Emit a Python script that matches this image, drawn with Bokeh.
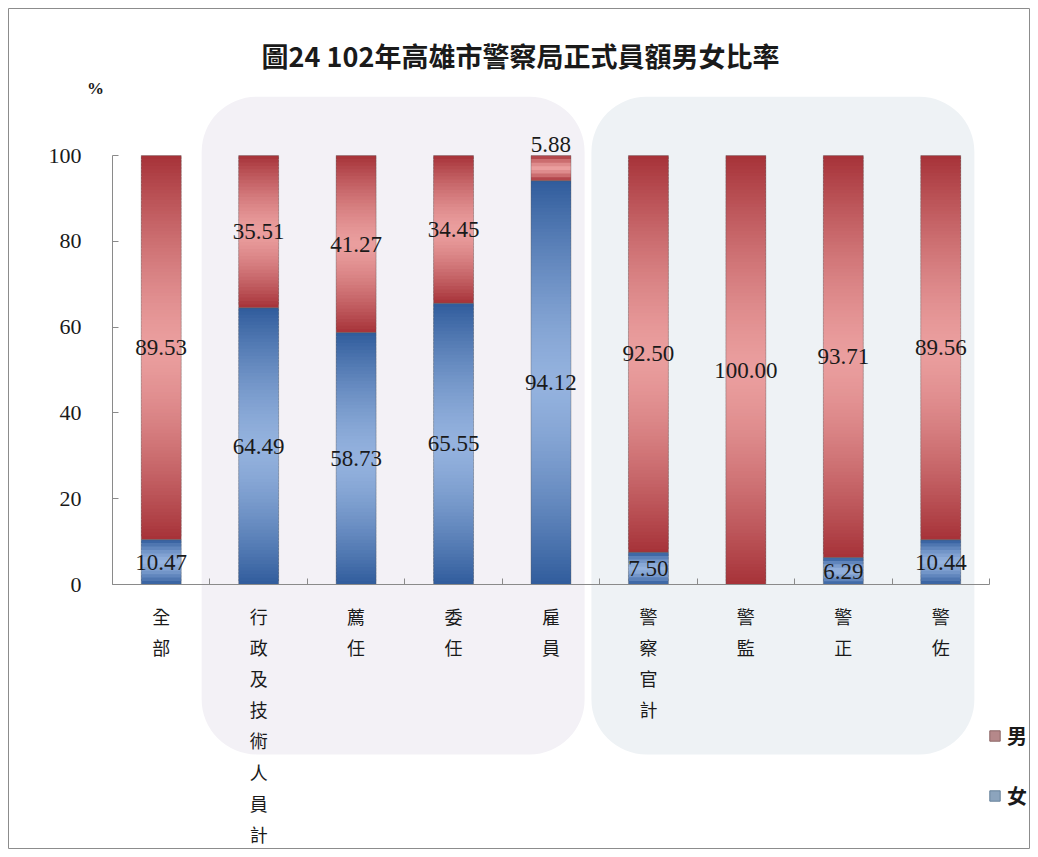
import numpy as np
from bokeh.plotting import figure
from bokeh.models import Range1d, FixedTicker, Legend, LegendItem, ColumnDataSource
from bokeh.core.properties import value
from bokeh.embed import file_html
from bokeh.resources import INLINE

# ---------------- data ----------------
title_text = "圖24 102年高雄市警察局正式員額男女比率"
categories = ["全部", "行政及技術人員計", "薦任", "委任", "雇員",
              "警察官計", "警監", "警正", "警佐"]
female = [10.47, 64.49, 58.73, 65.55, 94.12, 7.50, 0.00, 6.29, 10.44]
male = [89.53, 35.51, 41.27, 34.45, 5.88, 92.50, 100.00, 93.71, 89.56]
y_ticks = [0, 20, 40, 60, 80, 100]
group_admin = ["行政及技術人員計", "薦任", "委任", "雇員"]
group_police = ["警察官計", "警監", "警正", "警佐"]
series_names = ["男", "女"]

# ---------------- style ----------------
CJK = "Noto Sans CJK TC"
SERIF = "Liberation Serif"
RED_DARK, RED_LIGHT = (166, 50, 56), (234, 158, 158)
BLUE_DARK, BLUE_LIGHT = (48, 92, 156), (148, 178, 222)
BAR_W = 0.41

xs = [i + 1 for i in range(len(categories))]

p = figure(width=1030, height=849, output_backend="svg", toolbar_location=None,
           x_range=Range1d(-0.5673, 9.921), y_range=Range1d(-61.77, 134.27),
           min_border_left=8, min_border_top=8, min_border_right=0,
           min_border_bottom=0, title=None)
p.outline_line_color = "#8c8c8c"
p.outline_line_width = 1
p.background_fill_color = "white"
p.border_fill_color = "white"
p.xgrid.visible = False
p.ygrid.visible = False

# background rounded group panels
for grp, col in ((group_admin, "#f3f1f6"), (group_police, "#eef2f5")):
    idx = [categories.index(c) + 1 for c in grp]
    p.quad(left=[min(idx) - 0.585], right=[max(idx) + 0.345],
           top=[113.7], bottom=[-39.6], fill_color=col, line_color=None,
           border_radius=55)

# gradient bars built from overlapping thin slices of each stacked segment
def mix(light, dark, d):
    r, g, b = (int(round(l * (1 - d) + k * d)) for l, k in zip(light, dark))
    return "#%02x%02x%02x" % (r, g, b)

L, R, T, B, C = [], [], [], [], []
for x, f, m in zip(xs, female, male):
    for (b0, b1, light, dark) in ((0.0, f, BLUE_LIGHT, BLUE_DARK),
                                  (f, f + m, RED_LIGHT, RED_DARK)):
        h = b1 - b0
        if h <= 0:
            continue
        n = max(4, int(round(h / 0.8)))
        edges = np.linspace(b0, b1, n + 1)
        step = edges[1] - edges[0]
        for k in range(n):
            t = (k + 0.5) / n
            d = abs(2 * t - 1) ** 1.4
            L.append(x - BAR_W / 2); R.append(x + BAR_W / 2)
            B.append(edges[k]); T.append(min(b1, edges[k + 1] + 0.7 * step))
            C.append(mix(light, dark, d))
p.quad(left="l", right="r", top="t", bottom="b", fill_color="c", line_color=None,
       source=ColumnDataSource(dict(l=L, r=R, t=T, b=B, c=C)))

tops = [f + m for f, m in zip(female, male)]
p.vbar(x=xs, bottom=0, top=female, width=BAR_W, fill_alpha=0,
       line_color="#555555", line_alpha=0.35)
p.vbar(x=xs, bottom=female, top=tops, width=BAR_W, fill_alpha=0,
       line_color="#555555", line_alpha=0.35)

# value labels
lx, ly, lt, lb = [], [], [], []
for x, f, m in zip(xs, female, male):
    if f > 0:
        lx.append(x); ly.append(f / 2); lt.append("%.2f" % f); lb.append("middle")
    if m >= 10:
        lx.append(x); ly.append(f + m / 2); lt.append("%.2f" % m); lb.append("middle")
    elif m > 0:
        lx.append(x); ly.append(f + m + 0.8); lt.append("%.2f" % m); lb.append("bottom")
p.text(x="x", y="y", text="t", text_baseline="b", text_align="center",
       text_font=value(SERIF), text_font_size="23px", text_color="#1a1a1a",
       source=ColumnDataSource(dict(x=lx, y=ly, t=lt, b=lb)))

# title and unit
p.text(x=[4.687], y=[123.3], text=[title_text], text_align="center",
       text_baseline="middle", text_font=value(CJK), text_font_size="27px",
       text_font_style="bold", text_color="#1a1a1a")
p.text(x=[0.326], y=[115.6], text=["%"], text_align="center",
       text_baseline="middle", text_font=value(SERIF), text_font_size="17px",
       text_font_style="bold", text_color="#1a1a1a")

# axes
ya = p.yaxis[0]
ya.ticker = FixedTicker(ticks=y_ticks, minor_ticks=[])
ya.bounds = (0, 100)
ya.fixed_location = 0.5
ya.axis_line_color = "#8a8a8a"
ya.major_tick_line_color = "#8a8a8a"
ya.major_tick_in = 6
ya.major_tick_out = 0
ya.major_label_standoff = 31
ya.major_label_text_font = SERIF
ya.major_label_text_font_size = "22px"
ya.major_label_text_color = "#1a1a1a"

xa = p.xaxis[0]
xa.ticker = FixedTicker(ticks=xs, minor_ticks=[i + 0.5 for i in range(len(categories) + 1)])
xa.bounds = (0.5, len(categories) + 0.5)
xa.fixed_location = 0
xa.axis_line_color = "#8a8a8a"
xa.major_tick_in = 0
xa.major_tick_out = 0
xa.minor_tick_line_color = "#8a8a8a"
xa.minor_tick_in = 6
xa.minor_tick_out = 0
xa.major_label_overrides = {x: "\n".join(c) for x, c in zip(xs, categories)}
xa.major_label_standoff = 18
xa.major_label_text_font = CJK
xa.major_label_text_font_size = "18px"
xa.major_label_text_color = "#1a1a1a"

# legend (dummy renderers positioned outside the visible range)
r_m = p.quad(left=[-50], right=[-49], top=[-500], bottom=[-501],
             fill_color="#b5888a", line_color="#8a6464")
r_f = p.quad(left=[-50], right=[-49], top=[-500], bottom=[-501],
             fill_color="#8ca4bd", line_color="#66809a")
legend = Legend(items=[LegendItem(label=series_names[0], renderers=[r_m]),
                       LegendItem(label=series_names[1], renderers=[r_f])],
                location=(980, 39), orientation="vertical",
                glyph_width=13, glyph_height=13, label_height=20,
                spacing=31, padding=0, margin=0, label_standoff=6,
                label_text_font=CJK, label_text_font_size="20px",
                label_text_font_style="bold", label_text_color="#1a1a1a",
                border_line_color=None, background_fill_alpha=0)
p.add_layout(legend)

open("out.html", "w").write(file_html(p, INLINE))
